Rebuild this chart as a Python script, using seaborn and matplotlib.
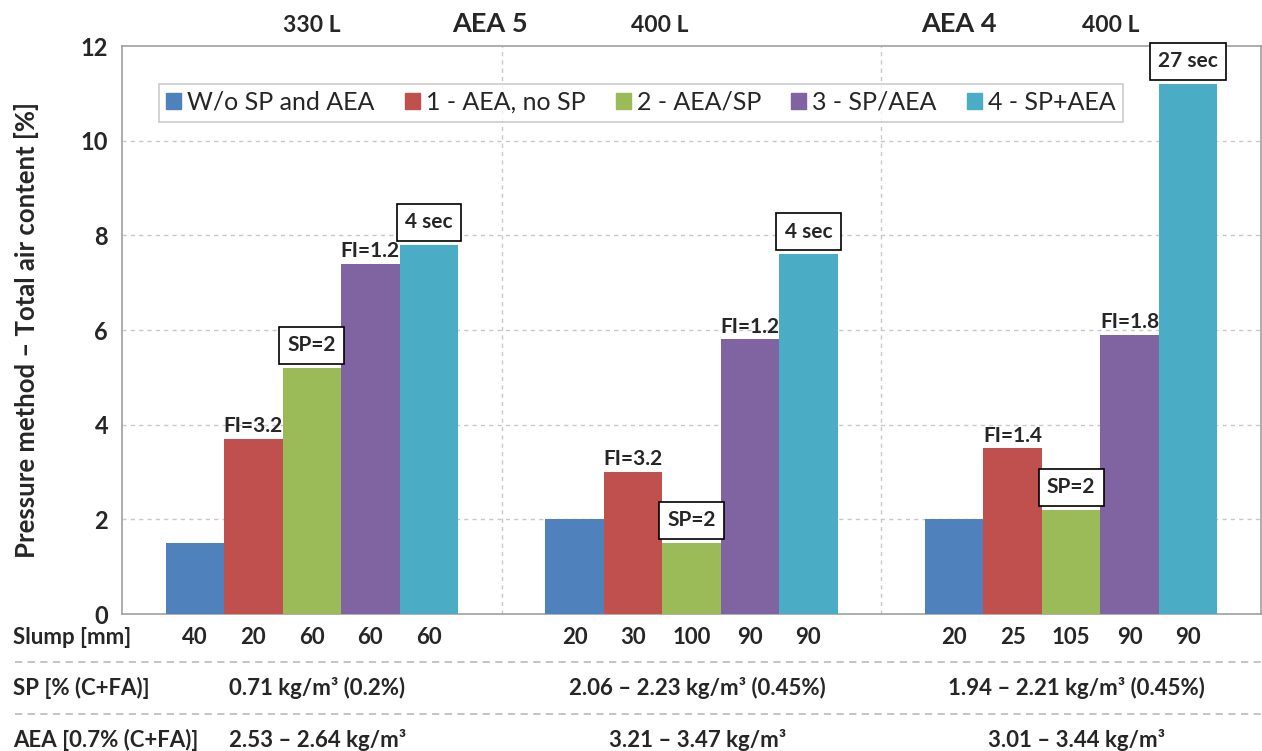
import matplotlib
matplotlib.use("Agg")
import matplotlib.pyplot as plt
import matplotlib.transforms as mtransforms
from matplotlib.lines import Line2D
import seaborn as sns
import pandas as pd

# ---------------- data ----------------
groups = ["AEA 5 | 330 L", "AEA 5 | 400 L", "AEA 4 | 400 L"]
series = ["W/o SP and AEA", "1 - AEA, no SP", "2 - AEA/SP", "3 - SP/AEA", "4 - SP+AEA"]
wo_sp_aea = [1.5, 2.0, 2.0]
aea_no_sp = [3.7, 3.0, 3.5]
aea_sp = [5.2, 1.5, 2.2]
sp_aea = [7.4, 5.8, 5.9]
sp_plus_aea = [7.8, 7.6, 11.2]
colors = ["#4F81BD", "#C0504D", "#9BBB59", "#8064A2", "#4BACC6"]

red_notes = ["FI=3.2", "FI=3.2", "FI=1.4"]
green_notes = ["SP=2", "SP=2", "SP=2"]
purple_notes = ["FI=1.2", "FI=1.2", "FI=1.8"]
cyan_notes = ["4 sec", "4 sec", "27 sec"]

slump = [[40, 20, 60, 60, 60], [20, 30, 100, 90, 90], [20, 25, 105, 90, 90]]
sp_dose = ["0.71 kg/m³ (0.2%)", "2.06 – 2.23 kg/m³ (0.45%)", "1.94 – 2.21 kg/m³ (0.45%)"]
aea_dose = ["2.53 – 2.64 kg/m³", "3.21 – 3.47 kg/m³", "3.01 – 3.44 kg/m³"]
row_labels = ["Slump [mm]", "SP [% (C+FA)]", "AEA [0.7% (C+FA)]"]
volume_labels = ["330 L", "400 L", "400 L"]
aea_labels = ["AEA 5", "AEA 4"]
ylabel = "Pressure method – Total air content [%]"
yticks = [0, 2, 4, 6, 8, 10, 12]

# ---------------- frame ----------------
values = [wo_sp_aea, aea_no_sp, aea_sp, sp_aea, sp_plus_aea]
rows = []
for s, vals in zip(series, values):
    for g, v in zip(groups, vals):
        rows.append({"group": g, "series": s, "air": v})
df = pd.DataFrame(rows)

sns.set_theme(style="white")
plt.rcParams["font.family"] = ["Lato", "DejaVu Sans"]

fig = plt.figure(figsize=(12.62, 7.51), dpi=100)
ax = fig.add_axes([122 / 1262, 1 - 614 / 751, 1139 / 1262, 568 / 751])

sns.barplot(data=df, x="group", y="air", hue="series", order=groups,
            hue_order=series, palette=colors, width=0.77, saturation=1,
            linewidth=0, ax=ax, zorder=3)

ax.set_xlim(-0.5, 2.5)
ax.set_ylim(0, 12)
ax.set_yticks(yticks)
ax.set_yticklabels([str(t) for t in yticks], fontsize=17, fontweight="bold")
ax.set_xticks([0.5, 1.5])
ax.set_xticklabels([])
ax.tick_params(axis="both", length=4, color="#A0A0A0", width=1, pad=6)
ax.set_xlabel("")
ax.set_ylabel(ylabel, fontsize=18.5, fontweight="bold", labelpad=30)

for t in yticks[1:-1]:
    ax.axhline(t, color="#C8C8C8", lw=1, ls=(0, (3, 3)), zorder=1)
for xv in [0.5, 1.5]:
    ax.axvline(xv, color="#C8C8C8", lw=1, ls=(0, (3, 3)), zorder=1)
for sp in ax.spines.values():
    sp.set_color("#A0A0A0")
    sp.set_linewidth(1.2)

# legend
handles = [plt.Rectangle((0, 0), 1, 1, color=c) for c in colors]
leg = ax.legend(handles, series, ncol=5, loc="upper left",
                bbox_to_anchor=(24 / 1139, 1 - 25 / 568), fontsize=18,
                frameon=True, fancybox=False, handlelength=0.6,
                handleheight=0.6, handletextpad=0.25, columnspacing=1.2,
                borderpad=0.3, edgecolor="#BFBFBF")
leg.get_frame().set_linewidth(1.2)

# annotations above bars
notes = {1: (red_notes, False), 2: (green_notes, True), 3: (purple_notes, False), 4: (cyan_notes, True)}
for si, (labels, boxed) in notes.items():
    cont = ax.containers[si]
    for gi, patch in enumerate(cont.patches):
        xc = patch.get_x() + patch.get_width() / 2
        h = patch.get_height()
        kw = dict(ha="center", va="bottom", fontsize=15, fontweight="bold",
                  textcoords="offset points", annotation_clip=False, zorder=5)
        if boxed:
            ax.annotate(labels[gi], (xc, h), xytext=(0, 9), **kw,
                        bbox=dict(boxstyle="square,pad=0.4", fc="white",
                                  ec="black", lw=1.2))
        else:
            ax.annotate(labels[gi], (xc, h), xytext=(0, 2), **kw)

# header labels
trans_top = mtransforms.blended_transform_factory(ax.transData, fig.transFigure)
vol_x = [0.0, 0.916, 2.105]
for x, lab in zip(vol_x, volume_labels):
    ax.text(x, 1 - 25 / 751, lab, transform=trans_top, ha="center", va="center",
            fontsize=16.5, fontweight="bold")
aea_x = [0.468, 1.705]
for x, lab in zip(aea_x, aea_labels):
    ax.text(x, 1 - 24 / 751, lab, transform=trans_top, ha="center", va="center",
            fontsize=19.5, fontweight="bold")

# bottom table
trans_b = mtransforms.blended_transform_factory(ax.transData, fig.transFigure)
y_slump, y_sp, y_aea = 1 - 637 / 751, 1 - 688 / 751, 1 - 740 / 751
for si, cont in enumerate(ax.containers[:5]):
    for gi, patch in enumerate(cont.patches):
        xc = patch.get_x() + patch.get_width() / 2
        ax.text(xc, y_slump, str(slump[gi][si]), transform=trans_b, ha="center",
                va="center", fontsize=16, fontweight="bold")
for gi in range(3):
    ax.text(gi + 0.015, y_sp, sp_dose[gi], transform=trans_b, ha="center",
            va="center", fontsize=16, fontweight="bold")
    ax.text(gi + 0.015, y_aea, aea_dose[gi], transform=trans_b, ha="center",
            va="center", fontsize=16, fontweight="bold")
for y, lab in zip([y_slump, y_sp, y_aea], row_labels):
    fig.text(13 / 1262, y, lab, ha="left", va="center", fontsize=16,
             fontweight="bold")
for yl in [1 - 662 / 751, 1 - 714 / 751]:
    fig.add_artist(Line2D([15 / 1262, 1], [yl, yl], transform=fig.transFigure,
                          color="#BFBFBF", lw=1.3, ls=(0, (4, 3))))

fig.savefig("out.png", dpi=100)
